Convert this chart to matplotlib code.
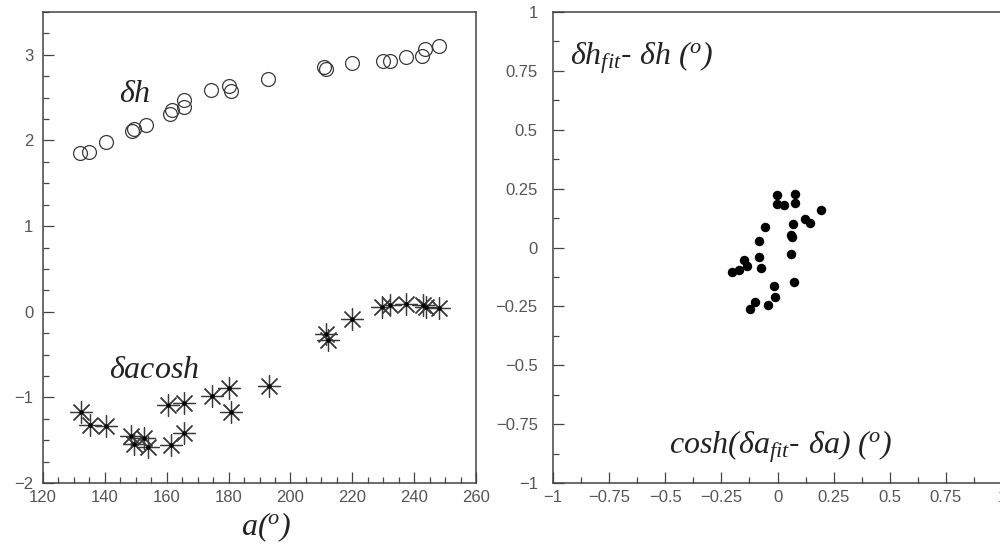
import matplotlib
matplotlib.use("Agg")
import matplotlib.pyplot as plt
from matplotlib.ticker import MultipleLocator

# ---- Data ----
# left panel: delta h (circles) vs a
dh_a = [132.0, 135.0, 140.3, 148.7, 149.4, 153.3, 161.1, 161.6, 165.6, 165.6,
        174.3, 180.0, 180.7, 192.9, 211.0, 211.4, 219.9, 229.8, 232.3, 237.3,
        242.5, 243.6, 247.9]
dh_val = [1.85, 1.86, 1.98, 2.11, 2.13, 2.18, 2.31, 2.36, 2.47, 2.39,
          2.59, 2.64, 2.58, 2.72, 2.86, 2.84, 2.90, 2.93, 2.93, 2.97,
          2.99, 3.07, 3.10]

# left panel: delta a cos h (asterisks) vs a
dacosh_a = [132.2, 135.2, 140.3, 148.5, 149.4, 152.6, 154.1, 160.5, 161.3, 165.6,
            165.6, 174.6, 180.2, 180.7, 193.1, 211.6, 212.0, 219.9, 229.6, 232.3,
            237.3, 243.0, 243.9, 247.9]
dacosh_val = [-1.17, -1.32, -1.33, -1.45, -1.54, -1.47, -1.58, -1.09, -1.56, -1.07,
              -1.42, -0.98, -0.89, -1.17, -0.87, -0.26, -0.33, -0.09, 0.06, 0.08,
              0.09, 0.08, 0.06, 0.04]

# right panel: fit residuals
res_x = [-0.004, 0.076, -0.001, 0.028, 0.080, 0.193, 0.121, 0.143, 0.067, -0.057,
         0.061, 0.066, -0.082, 0.062, -0.082, -0.147, -0.135, -0.073, -0.171, -0.202,
         0.074, -0.016, -0.010, -0.043, -0.098, -0.121]
res_y = [0.221, 0.228, 0.186, 0.182, 0.190, 0.160, 0.122, 0.103, 0.100, 0.086,
         0.055, 0.044, 0.026, -0.027, -0.041, -0.055, -0.077, -0.087, -0.095, -0.105,
         -0.148, -0.165, -0.211, -0.244, -0.230, -0.262]

# ---- Style ----
plt.rcParams["font.family"] = ["Liberation Sans", "DejaVu Sans"]
plt.rcParams["mathtext.fontset"] = "custom"
plt.rcParams["mathtext.rm"] = "Liberation Serif:italic"
plt.rcParams["mathtext.it"] = "Liberation Serif:italic"

frame_col = "#444444"
tick_col = "#555555"
mark_col = "#3a3a3a"
text_col = "#222222"

fig = plt.figure(figsize=(10, 5.44), dpi=100)
ax1 = fig.add_axes([0.043, 0.112, 0.433, 0.866])
ax2 = fig.add_axes([0.553, 0.112, 0.449, 0.866])


def style_axes(ax):
    for side in ["left", "bottom", "top", "right"]:
        ax.spines[side].set_color(frame_col)
        ax.spines[side].set_linewidth(1.1)
    ax.tick_params(which="both", direction="in", top=False, right=False,
                   colors=frame_col, labelcolor=tick_col, labelsize=12, width=0.9)
    ax.tick_params(which="major", length=8)
    ax.tick_params(which="minor", length=4.3)
    ax.tick_params(axis="y", pad=7)
    ax.tick_params(axis="x", pad=5)


def minus_fmt(v, p):
    return "0" if v == 0 else f"{v:g}".replace("-", "\u2212")


# ---- Left panel ----
ax1.plot(dh_a, dh_val, linestyle="none", marker="o", markersize=10,
         markerfacecolor="none", markeredgecolor=mark_col, markeredgewidth=0.9)
ax1.plot(dacosh_a, dacosh_val, linestyle="none", marker=(8, 2, 0), markersize=16,
         markeredgecolor=mark_col, markeredgewidth=0.9)
ax1.plot(dacosh_a, dacosh_val, linestyle="none", marker="o", markersize=2,
         color="black")
ax1.set_xlim(120, 260)
ax1.set_ylim(-2, 3.5)
ax1.xaxis.set_major_locator(MultipleLocator(20))
ax1.xaxis.set_minor_locator(MultipleLocator(5))
ax1.yaxis.set_major_locator(MultipleLocator(1))
ax1.yaxis.set_minor_locator(MultipleLocator(0.25))
ax1.xaxis.set_major_formatter(minus_fmt)
ax1.yaxis.set_major_formatter(minus_fmt)
style_axes(ax1)

ax1.text(144.5, 2.45, r"$\delta h$", fontsize=23, color=text_col)
ax1.text(141.5, -0.77, r"$\delta acosh$", fontsize=23, color=text_col)
fig.text(0.266, 0.016, r"$a(^o)$", fontsize=23, color=text_col, ha="center")

# ---- Right panel ----
ax2.plot(res_x, res_y, linestyle="none", marker="o", markersize=5.8, color="black")
ax2.set_xlim(-1, 1)
ax2.set_ylim(-1, 1)
ax2.xaxis.set_major_locator(MultipleLocator(0.25))
ax2.xaxis.set_minor_locator(MultipleLocator(0.125))
ax2.yaxis.set_major_locator(MultipleLocator(0.25))
ax2.yaxis.set_minor_locator(MultipleLocator(0.125))
ax2.xaxis.set_major_formatter(minus_fmt)
ax2.yaxis.set_major_formatter(minus_fmt)
style_axes(ax2)
ax2.tick_params(axis="y", pad=11)

ax2.text(-0.925, 0.775, r"$\delta h_{fit}$- $\delta h\ (^o)$", fontsize=23, color=text_col)
ax2.text(0.015, -0.873, r"$cosh(\delta a_{fit}$- $\delta a)\ (^o)$", fontsize=23,
         color=text_col, ha="center")

fig.savefig("out.png", dpi=100)
